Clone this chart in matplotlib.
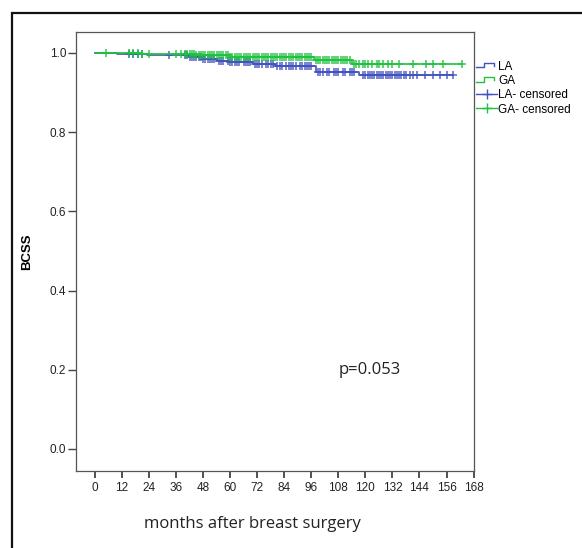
import matplotlib
matplotlib.use("Agg")
import matplotlib.pyplot as plt
import numpy as np
from matplotlib.lines import Line2D
from matplotlib.patches import Rectangle
from matplotlib.legend_handler import HandlerBase

plt.rcParams.update({"font.family": ["Liberation Sans Narrow", "Liberation Sans", "DejaVu Sans"]})
BLUE = "#4352c0"; GREEN = "#1ec23e"

# Kaplan-Meier steps (event times in months, survival after the event)
la_times = [0, 10, 23, 42, 48, 54, 60, 70, 80, 98, 117]
la_surv = [1.0, 0.998, 0.995, 0.990, 0.986, 0.981, 0.977, 0.972, 0.966, 0.953, 0.945]
la_end = 158.7
ga_times = [0, 13, 20, 45, 60, 97, 114]
ga_surv = [1.0, 0.999, 0.997, 0.994, 0.991, 0.983, 0.971]
ga_end = 162.7

# censored observations
la_cens = [15, 17, 19, 21, 33, 40, 41, 42, 43, 44, 45, 46, 47, 48, 49, 50, 51, 52, 53,
           55, 56, 57, 59, 60, 61, 62, 63, 64, 66, 67, 68, 69, 71, 72, 73, 74, 76, 77,
           78, 79, 81, 82, 83, 85, 86, 87, 88, 89, 91, 92, 93, 94, 95, 96, 99, 100, 101,
           103, 104, 106, 107, 108, 110, 111, 113, 114, 115, 119, 120, 121, 122, 123,
           124, 125, 126, 127, 128, 129, 130, 131, 132, 133, 134, 135, 136, 137, 138,
           140, 141, 143, 146.5, 150, 153, 156, 158.7]
ga_cens = [5, 15, 17, 19, 21, 24, 36, 38, 40, 41, 42, 43, 44, 45, 46, 47, 48, 49, 50,
           51, 52, 53, 54, 55, 56, 57, 58, 59, 60, 61, 62, 63, 64, 65, 66, 67, 68, 69,
           70, 71, 72, 73, 74, 75, 76, 77, 78, 79, 80, 81, 82, 83, 84, 85, 86, 87, 88,
           89, 90, 91, 92, 93, 94, 95, 96, 98, 99, 100, 101, 102, 103, 104, 105, 106,
           107, 108, 109, 110, 111, 112, 113, 115, 116, 117, 119, 120, 121, 123, 125,
           126, 128, 130, 132, 135, 141, 147, 150, 154.5, 162.7]

def surv_at(times, surv, t):
    idx = np.searchsorted(times, t, side="right") - 1
    return np.asarray(surv)[idx]

fig = plt.figure(figsize=(5.82, 5.48), dpi=100)
ax = fig.add_axes([76/582, 1-471/548, 398/582, 439/548])

for times, surv, end, cens, col, lab in [
        (la_times, la_surv, la_end, la_cens, BLUE, "LA"),
        (ga_times, ga_surv, ga_end, ga_cens, GREEN, "GA")]:
    ax.plot(times + [end], surv + [surv[-1]], drawstyle="steps-post",
            color=col, linewidth=1.2)
    ax.plot(cens, surv_at(times, surv, cens), "+", color=col,
            markersize=6, markeredgewidth=1.1, alpha=0.9)

ax.set_xlim(-8.4, 168.2)
ax.set_ylim(-0.0556, 1.053)
ax.set_xticks(np.arange(0, 169, 12))
ax.set_yticks([0.0, 0.2, 0.4, 0.6, 0.8, 1.0])
ax.set_yticklabels(["0.0", "0.2", "0.4", "0.6", "0.8", "1.0"])
ax.tick_params(axis="both", direction="out", length=5.5, width=1.0,
               color="#444444", labelsize=8.5, labelcolor="#222222", pad=1.5)
ax.tick_params(axis="x", length=5, width=1.3, pad=3)
for s in ax.spines.values():
    s.set_color("#555555"); s.set_linewidth(0.9)

ax.set_ylabel("BCSS", fontweight="bold", fontsize=9.5,
              family=["Liberation Sans", "DejaVu Sans"])
ax.yaxis.set_label_coords(-0.108, 0.5)

fig.text(252/582, 1-524/548, "months after breast surgery", fontsize=12,
         family=["Open Sans", "DejaVu Sans"], ha="center", va="center", color="#222222")
fig.text(370/582, 1-370/548, "p=0.053", fontsize=12,
         family=["Open Sans", "DejaVu Sans"], ha="center", va="center", color="#222222")


class StepHandler(HandlerBase):
    def create_artists(self, legend, orig_handle, xd, yd, w, h, fontsize, trans):
        xs = np.array([0, 0.4, 0.4, 0.85, 0.85]) * w - xd
        ys = np.array([0.25, 0.25, 0.8, 0.8, 0.45]) * h - yd
        ln = Line2D(xs, ys, color=orig_handle.get_color(), linewidth=1.0, transform=trans)
        return [ln]


step_la = Line2D([], [], color=BLUE)
step_ga = Line2D([], [], color=GREEN)
cens_la = Line2D([], [], color=BLUE, marker="+", markersize=7, linewidth=1.0)
cens_ga = Line2D([], [], color=GREEN, marker="+", markersize=7, linewidth=1.0)
leg = ax.legend([step_la, step_ga, cens_la, cens_ga],
                ["LA", "GA", "LA- censored", "GA- censored"],
                handler_map={step_la: StepHandler(), step_ga: StepHandler()},
                loc="upper left", bbox_to_anchor=(1.005, 0.935), frameon=False,
                handlelength=1.8, handletextpad=0.1, labelspacing=0.2,
                borderpad=0, borderaxespad=0,
                prop={"family": ["Liberation Sans", "DejaVu Sans"], "size": 8.5})

# outer frame of the figure panel
fig.add_artist(Rectangle((12/582, -0.1), 1.2, 1.1-13/548, transform=fig.transFigure,
                         fill=False, edgecolor="#111111", linewidth=1.6))

fig.savefig("out.png", dpi=100)
